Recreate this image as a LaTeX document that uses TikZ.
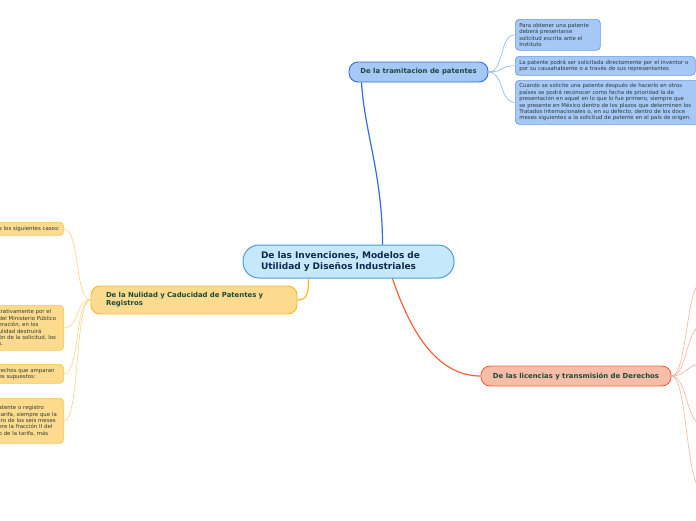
\documentclass[tikz,border=0pt]{standalone}
\usepackage{fontspec}
\setmainfont{DejaVu Sans}
\usepackage{xcolor}
\usetikzlibrary{positioning}

\definecolor{topicfill}{HTML}{C5E9FB}
\definecolor{topicline}{HTML}{4B9CD9}
\definecolor{topictext}{HTML}{12284F}
\definecolor{bluefill}{HTML}{A6C8F6}
\definecolor{blueline}{HTML}{2F6DE1}
\definecolor{bluethin}{HTML}{8CB3EE}
\definecolor{yellowfill}{HTML}{FDDB8E}
\definecolor{yellowline}{HTML}{F7BA26}
\definecolor{yellowthin}{HTML}{FBD585}
\definecolor{redfill}{HTML}{F8BDA8}
\definecolor{redline}{HTML}{F0623A}
\definecolor{redthin}{HTML}{F8B39B}
\definecolor{branchtext}{HTML}{1B4A3A}
\definecolor{leaftext}{HTML}{2E3B33}

\begin{document}
\begin{tikzpicture}[
    x=1pt, y=-1pt,
    topic/.style={draw=topicline, fill=topicfill, line width=1pt, rounded corners=16pt,
        minimum height=33pt, inner xsep=18pt, text width=175pt, align=left,
        text=topictext, font=\fontsize{9}{11}\selectfont\bfseries},
    branch/.style={draw, line width=0.9pt, rounded corners=9pt, minimum height=20pt,
        text=branchtext, font=\fontsize{6.9}{8}\selectfont\bfseries},
    leaf/.style={draw, line width=0.7pt, rounded corners=4pt, inner xsep=4pt, inner ysep=2pt,
        align=left, text=leaftext, font=\fontsize{5.4}{6.4}\selectfont},
    mainlink/.style={line width=1.2pt},
    leaflink/.style={line width=0.6pt}
]
    \useasboundingbox (0,0) rectangle (696,520);
    \clip (0,0) rectangle (696,520);

    % central topic
    \node[topic] (invenciones) at (348.5,261.5)
        {De las Invenciones, Modelos de\\Utilidad y Diseños Industriales};

    % branches
    \node[branch, draw=blueline, fill=bluefill, minimum width=139pt] (tramitacion) at (418.5,72)
        {De la tramitacion de patentes};
    \node[branch, draw=yellowline, fill=yellowfill, minimum height=28pt, inner xsep=15pt,
        text width=176pt, align=left] (nulidad) at (194,300)
        {De la Nulidad y Caducidad de Patentes y\\Registros};
    \node[branch, draw=redline, fill=redfill, minimum width=190pt] (licencias) at (576,376)
        {De las licencias y transmisión de Derechos};

    % leaves of the blue branch
    \node[leaf, draw=blueline!70, fill=bluefill, anchor=north west, minimum height=31pt, text width=77pt] (tram1) at (515,19)
        {Para obtener una patente\\deberá presentarse\\solicitud escrita ante el\\Instituto};
    \node[leaf, draw=blueline!70, fill=bluefill, anchor=north west, minimum height=19pt, text width=172pt] (tram2) at (515,56)
        {La patente podrá ser solicitada directamente por el inventor o\\por su causahabiente o a través de sus representantes};
    \node[leaf, draw=blueline!70, fill=bluefill, anchor=north west, minimum height=44pt, text width=182pt] (tram3) at (515,80)
        {Cuando se solicite una patente después de hacerlo en otros\\países se podrá reconocer como fecha de prioridad la de\\presentación en aquel en lo que lo fue primero, siempre que\\se presente en México dentro de los plazos que determinen los\\Tratados Internacionales o, en su defecto, dentro de los doce\\meses siguientes a la solicitud de patente en el país de origen.};

    % leaves of the yellow branch
    \node[leaf, draw=yellowline!80, fill=yellowfill, anchor=north east, minimum height=13pt, text width=76pt, align=right] (nul1) at (64,222)
        {s los siguientes casos:};
    \node[leaf, draw=yellowline!80, fill=yellowfill, anchor=north east, minimum height=45pt, text width=61pt] (nul2) at (64,305)
        {trativamente por el\\del Ministerio Público\\eración, en los\\ulidad destruirá\\ón de la solicitud, los\\s.};
    \node[leaf, draw=yellowline!80, fill=yellowfill, anchor=north east, minimum height=19pt, text width=61pt] (nul3) at (64,364)
        {rechos que amparan\\es supuestos:};
    \node[leaf, draw=yellowline!80, fill=yellowfill, anchor=north east, minimum height=45pt, text width=61pt] (nul4) at (64,398)
        {atente o registro\\tarifa, siempre que la\\tro de los seis meses\\ere la fracción II del\\o de la tarifa, más};

    % free ends of the red branch
    \coordinate (lic1) at (702,282);
    \coordinate (lic2) at (702,326);
    \coordinate (lic3) at (702,364);
    \coordinate (lic4) at (702,424);
    \coordinate (lic5) at (702,489);

    % main connectors
    \draw[mainlink, blueline] ([xshift=34pt]invenciones.north) .. controls +(0,-70) and +(3,50) .. ([xshift=-57pt]tramitacion.south);
    \draw[mainlink, yellowline] ([xshift=-40pt]invenciones.south) .. controls +(0,14) and +(10,0) .. (nulidad.east);
    \draw[mainlink, redline] ([xshift=44pt]invenciones.south) .. controls +(20,60) and +(-40,0) .. (licencias.west);

    % leaf connectors
    \foreach \l in {tram1,tram2,tram3}
        \draw[leaflink, bluethin] (tramitacion.east) .. controls +(16,0) and +(-16,0) .. (\l.west);
    \foreach \l in {nul1,nul2,nul3,nul4}
        \draw[leaflink, yellowthin] (nulidad.west) .. controls +(-16,0) and +(16,0) .. (\l.east);
    \foreach \l in {lic1,lic2,lic3,lic4,lic5}
        \draw[leaflink, redthin] (licencias.east) .. controls +(16,0) and +(-16,0) .. (\l);
\end{tikzpicture}
\end{document}
